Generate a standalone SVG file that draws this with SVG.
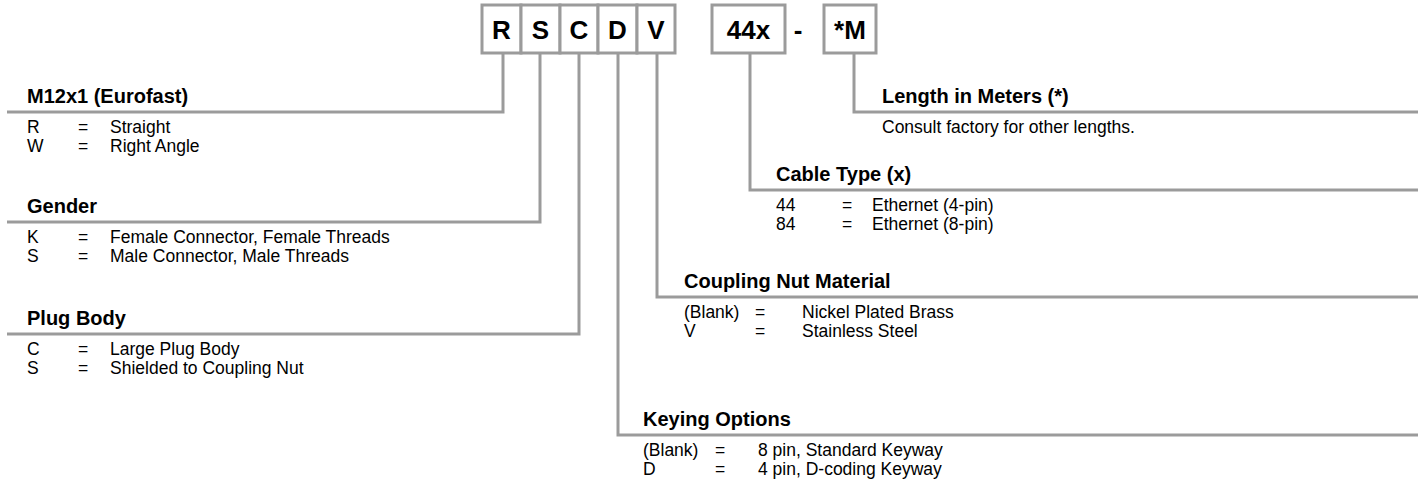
<svg xmlns="http://www.w3.org/2000/svg" width="1422" height="482" viewBox="0 0 1422 482">
<style>
.box{fill:#fff;stroke:#9b9b9b;stroke-width:3}
.ln{fill:none;stroke:#9b9b9b;stroke-width:3}
.code{font-family:"Liberation Sans",Arial,sans-serif;font-weight:bold;font-size:26px;fill:#000;text-anchor:middle}
.h{font-family:"Liberation Sans",Arial,sans-serif;font-weight:bold;font-size:20px;fill:#000}
.t{font-family:"Liberation Sans",Arial,sans-serif;font-size:17.5px;fill:#000}
</style>
<rect width="1422" height="482" fill="#fff"/>
<g id="connectors">
<path class="ln" d="M503,53 V112 H7"/>
<path class="ln" d="M540,53 V222 H7"/>
<path class="ln" d="M579,53 V334 H7"/>
<path class="ln" d="M618,53 V435 H1418"/>
<path class="ln" d="M657,53 V297 H1418"/>
<path class="ln" d="M750,53 V190 H1418"/>
<path class="ln" d="M854,53 V112 H1418"/>
</g>
<g id="code-boxes">
<rect class="box" x="482" y="5" width="39" height="48"/>
<rect class="box" x="521" y="5" width="39" height="48"/>
<rect class="box" x="560" y="5" width="38" height="48"/>
<rect class="box" x="598" y="5" width="39" height="48"/>
<rect class="box" x="637" y="5" width="38" height="48"/>
<rect class="box" x="712" y="5" width="73" height="48"/>
<rect class="box" x="824" y="5" width="52" height="48"/>
<text class="code" x="501.5" y="39">R</text>
<text class="code" x="540.5" y="39">S</text>
<text class="code" x="579" y="39">C</text>
<text class="code" x="617.5" y="39">D</text>
<text class="code" x="656" y="39">V</text>
<text class="code" x="748.5" y="39">44x</text>
<text class="code" x="798" y="39">-</text>
<text class="code" x="850" y="39">*M</text>
</g>
<g id="mount">
<text class="h" x="27" y="103">M12x1 (Eurofast)</text>
<text class="t" x="27" y="133">R</text><text class="t" x="78" y="133">=</text><text class="t" x="110" y="133">Straight</text>
<text class="t" x="27" y="152">W</text><text class="t" x="78" y="152">=</text><text class="t" x="110" y="152">Right Angle</text>
</g>
<g id="gender">
<text class="h" x="27" y="213">Gender</text>
<text class="t" x="27" y="243">K</text><text class="t" x="78" y="243">=</text><text class="t" x="110" y="243">Female Connector, Female Threads</text>
<text class="t" x="27" y="262">S</text><text class="t" x="78" y="262">=</text><text class="t" x="110" y="262">Male Connector, Male Threads</text>
</g>
<g id="plug-body">
<text class="h" x="27" y="325">Plug Body</text>
<text class="t" x="27" y="355">C</text><text class="t" x="78" y="355">=</text><text class="t" x="110" y="355">Large Plug Body</text>
<text class="t" x="27" y="374">S</text><text class="t" x="78" y="374">=</text><text class="t" x="110" y="374">Shielded to Coupling Nut</text>
</g>
<g id="keying">
<text class="h" x="643" y="426">Keying Options</text>
<text class="t" x="643" y="456">(Blank)</text><text class="t" x="715" y="456">=</text><text class="t" x="758" y="456">8 pin, Standard Keyway</text>
<text class="t" x="643" y="475">D</text><text class="t" x="715" y="475">=</text><text class="t" x="758" y="475">4 pin, D-coding Keyway</text>
</g>
<g id="coupling-nut">
<text class="h" x="684" y="288">Coupling Nut Material</text>
<text class="t" x="684" y="318">(Blank)</text><text class="t" x="755" y="318">=</text><text class="t" x="802" y="318">Nickel Plated Brass</text>
<text class="t" x="684" y="337">V</text><text class="t" x="755" y="337">=</text><text class="t" x="802" y="337">Stainless Steel</text>
</g>
<g id="cable-type">
<text class="h" x="776" y="181">Cable Type (x)</text>
<text class="t" x="776" y="211">44</text><text class="t" x="842" y="211">=</text><text class="t" x="872" y="211">Ethernet (4-pin)</text>
<text class="t" x="776" y="230">84</text><text class="t" x="842" y="230">=</text><text class="t" x="872" y="230">Ethernet (8-pin)</text>
</g>
<g id="length">
<text class="h" x="882" y="103">Length in Meters (*)</text>
<text class="t" x="882" y="133">Consult factory for other lengths.</text>
</g>
</svg>
